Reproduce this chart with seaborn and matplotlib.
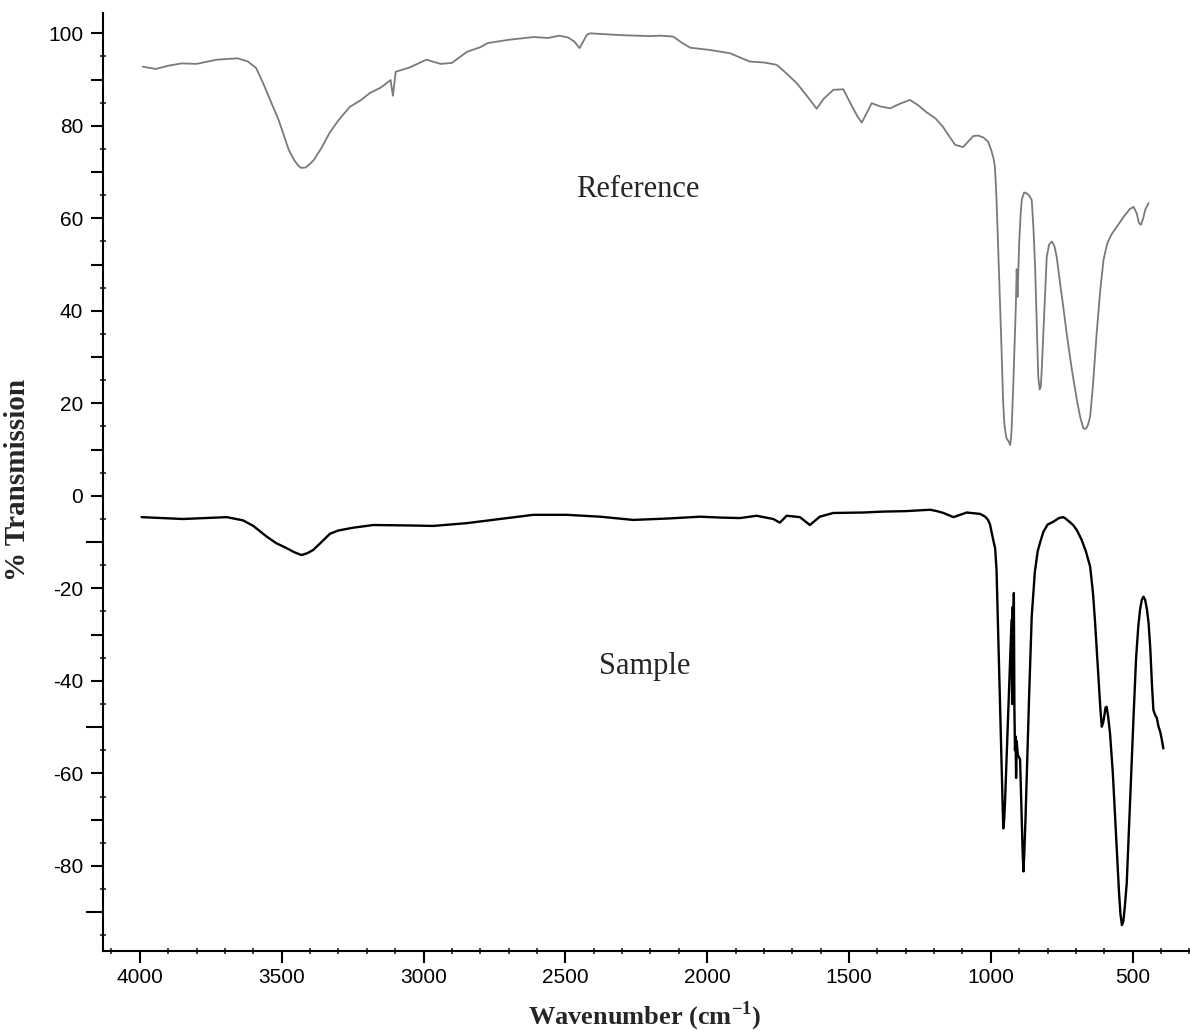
import matplotlib
matplotlib.use("Agg")
import matplotlib.pyplot as plt
import seaborn as sns
from matplotlib.ticker import MultipleLocator, FuncFormatter

# spectru de referinta (wavenumber, % transmisie)
ref_wn = [3990, 3944, 3900, 3853, 3800, 3729, 3655, 3619, 3590, 3566, 3540, 3511,
          3490, 3475, 3455, 3440, 3431, 3415, 3400, 3387, 3360, 3331, 3300, 3260,
          3220, 3189, 3150, 3116, 3108, 3098, 3050, 2990, 2940, 2900, 2847, 2800,
          2774, 2700, 2612, 2560, 2522, 2490, 2468, 2450, 2424, 2413, 2300, 2200,
          2163, 2120, 2090, 2060, 1990, 1920, 1850, 1800, 1755, 1720, 1684, 1650,
          1614, 1590, 1555, 1520, 1496, 1470, 1455, 1440, 1420, 1390, 1355, 1320,
          1285, 1255, 1226, 1195, 1169, 1145, 1126, 1098, 1080, 1062, 1045, 1027,
          1010, 998, 990, 986, 983, 980, 975, 968, 962, 957, 953, 950, 945, 940,
          935, 932, 929, 927, 921, 915, 912, 909, 906, 900, 895, 891, 883, 874,
          866, 856, 850, 844, 838, 833, 828, 824, 820, 815, 808, 803, 795, 785,
          776, 768, 755, 745, 733, 715, 697, 685, 674, 665, 658, 650, 640, 627,
          615, 603, 590, 575, 556, 530, 510, 497, 486, 478, 471, 463, 456, 450, 444]
ref_t = [92.8, 92.3, 93.0, 93.5, 93.4, 94.3, 94.6, 93.9, 92.5, 89.3, 85.5, 81.3,
         77.5, 74.8, 72.5, 71.3, 70.9, 71.0, 71.8, 72.6, 75.2, 78.5, 81.2, 84.1,
         85.6, 87.1, 88.3, 89.9, 86.5, 91.7, 92.6, 94.3, 93.4, 93.6, 96.0, 97.0,
         97.9, 98.6, 99.2, 99.0, 99.5, 99.1, 98.2, 96.8, 99.7, 100.0, 99.6, 99.4,
         99.5, 99.3, 98.0, 96.9, 96.4, 95.7, 93.9, 93.7, 93.2, 91.3, 89.2, 86.6,
         83.7, 85.8, 87.8, 87.9, 85.0, 82.0, 80.7, 82.5, 84.9, 84.2, 83.8, 84.8,
         85.6, 84.4, 82.9, 81.6, 79.8, 77.6, 75.9, 75.4, 76.6, 77.8, 77.9, 77.5,
         76.6, 74.6, 72.8, 71.2, 68.0, 64.0, 55.0, 42.4, 31.0, 20.8, 16.0, 14.3, 12.5, 12.0,
         11.5, 11.0, 12.5, 14.3, 24.0, 35.2, 41.0, 49.0, 43.0, 55.0, 61.0, 64.0, 65.6, 65.4,
         65.0, 64.0, 58.0, 49.6, 37.0, 25.8, 23.0, 23.6, 28.0, 35.2, 45.0, 51.7, 54.3, 55.0,
         54.0, 51.7, 45.5, 41.0, 35.2, 27.5, 20.8, 17.0, 14.6, 14.5, 15.3, 17.1, 24.0, 35.2,
         44.0, 51.0, 54.5, 56.5, 58.2, 60.5, 62.0, 62.5, 61.1, 59.0, 58.6, 60.0, 61.8, 62.6, 63.3]

# spectrul probei
smp_wn = [3994, 3920, 3848, 3770, 3694, 3636, 3600, 3553, 3520, 3483, 3455, 3430,
          3410, 3389, 3360, 3330, 3301, 3250, 3177, 3050, 2966, 2848, 2731, 2613,
          2496, 2378, 2261, 2140, 2025, 1950, 1884, 1826, 1767, 1744, 1720, 1673,
          1638, 1603, 1556, 1450, 1380, 1300, 1214, 1190, 1167, 1132, 1085, 1038,
          1020, 1010, 1003, 995, 990, 985, 980, 973, 967, 962, 958, 956, 953, 950,
          947, 935, 930, 927, 925, 923, 921, 919, 917, 915, 913, 911, 909, 905,
          897, 892, 888, 885, 882, 878, 874, 865, 856, 845, 835, 827, 815, 800,
          780, 760, 745, 739, 725, 710, 697, 680, 665, 650, 640, 633, 627, 620,
          614, 609, 604, 600, 596, 592, 587, 580, 570, 563, 556, 548, 543, 538,
          533, 528, 521, 510, 497, 488, 480, 474, 468, 462, 456, 450, 444, 438,
          432, 427, 420, 415, 409, 403, 398, 392]
smp_t = [-4.6, -4.8, -5.0, -4.8, -4.6, -5.3, -6.5, -8.8, -10.2, -11.3, -12.2, -12.8,
         -12.4, -11.7, -10.0, -8.2, -7.5, -6.9, -6.3, -6.4, -6.5, -5.9, -5.0, -4.1,
         -4.1, -4.5, -5.2, -4.9, -4.5, -4.7, -4.8, -4.3, -5.0, -5.8, -4.3, -4.6,
         -6.3, -4.5, -3.7, -3.6, -3.4, -3.3, -3.0, -3.3, -3.7, -4.6, -3.6, -3.9,
         -4.5, -5.2, -6.2, -8.5, -10.0, -11.3, -16.0, -33.3, -46.0, -58.5, -68.0, -71.9, -70.0, -66.0,
         -62.0, -40.5, -32.0, -26.8, -45.0, -24.0, -44.0, -21.0, -46.0, -55.0, -52.0, -61.0, -53.0, -56.0,
         -57.0, -68.0, -77.0, -81.2, -77.0, -70.0, -62.1, -43.0, -26.1, -16.5, -12.0, -10.2, -7.8, -6.2,
         -5.6, -4.8, -4.6, -4.8, -5.5, -6.3, -7.4, -9.5, -12.0, -15.3, -21.0, -27.0, -33.3, -40.0,
         -46.0, -49.9, -49.0, -47.5, -45.8, -45.6, -47.5, -51.3, -60.0, -68.0, -76.5, -86.0, -90.5, -92.8,
         -92.0, -89.0, -83.7, -67.0, -47.7, -35.0, -28.0, -24.6, -22.5, -21.8, -22.5, -24.5, -27.5, -33.0,
         -41.0, -46.3, -47.5, -48.0, -49.9, -51.0, -52.5, -54.6]

sns.set_style("ticks")
plt.rcParams['font.family'] = ['Liberation Sans', 'DejaVu Sans']

fig = plt.figure(figsize=(11.9, 10.31), dpi=100)
ax = fig.add_axes([0.0863, 0.0776, 0.9137, 0.9098])

sns.lineplot(x=ref_wn, y=ref_t, ax=ax, color='#7a7a7a', linewidth=1.3, estimator=None)
sns.lineplot(x=smp_wn, y=smp_t, ax=ax, color='black', linewidth=1.7, estimator=None)

ax.set_xlim(4131, 298)
ax.set_ylim(-98.4, 104.4)

ax.xaxis.set_major_locator(MultipleLocator(500))
ax.xaxis.set_minor_locator(MultipleLocator(100))
ax.yaxis.set_major_locator(MultipleLocator(10))
ax.yaxis.set_minor_locator(MultipleLocator(5))
ax.yaxis.set_major_formatter(FuncFormatter(lambda v, p: f"{v:.0f}" if round(v) % 20 == 0 else ""))

ax.tick_params(which='major', width=1.5, labelsize=15, colors='black')
ax.tick_params(axis='x', which='major', length=8.5, direction='out', pad=4)
ax.tick_params(axis='y', which='major', length=12, direction='out', pad=2)
ax.tick_params(which='minor', length=4, width=1.2, direction='inout')

# ticks intermediare mai scurte pe y
for t in ax.yaxis.get_major_ticks():
    v = t.get_loc()
    if round(v) % 20 != 0:
        t.tick1line.set_markersize(8.5)

sns.despine(ax=ax)
for s in ['left', 'bottom']:
    ax.spines[s].set_linewidth(1.5)
    ax.spines[s].set_color('black')

serif = ['Liberation Serif', 'DejaVu Serif']
ax.text(2244, 66.2, "Reference", family=serif, fontsize=22, ha='center', va='center')
ax.text(2222, -36.8, "Sample", family=serif, fontsize=22, ha='center', va='center')

ax.set_xlabel(r"Wavenumber (cm$^{\mathregular{-1}}$)", family=serif, fontsize=19, fontweight='bold')
ax.set_ylabel("% Transmission", family=serif, fontsize=21, fontweight='bold')
ax.xaxis.set_label_coords(0.4988, -0.052)
ax.yaxis.set_label_coords(-0.066, 0.502)

fig.savefig("out.png", dpi=100)
